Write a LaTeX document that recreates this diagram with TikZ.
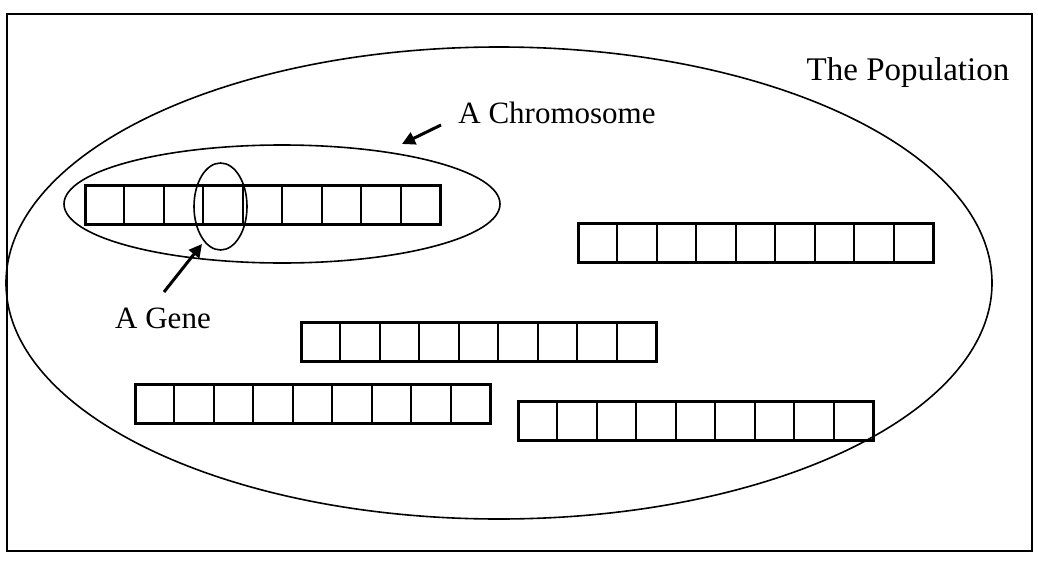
\documentclass[tikz,border=0pt]{standalone}
\usepackage{fontspec}
\setmainfont{Liberation Serif}
\usetikzlibrary{shapes.geometric,arrows.meta,calc}
\tikzset{
  chromo/.style={draw, line width=3pt, minimum width=355pt, minimum height=39pt, inner sep=0pt, outer sep=0pt},
  divider/.style={line width=2pt},
  ring/.style={draw, ellipse, line width=1.6pt, inner sep=0pt},
  pointer/.style={line width=3pt, -{Triangle[length=13pt,width=13pt]}},
  label/.style={font=\fontsize{31}{36}\selectfont, inner sep=0pt},
}
\newcommand{\cells}[1]{%
  \foreach \k in {1,...,8}{%
    \draw[divider] ($(#1.south west)!\k/9!(#1.south east)$) -- ($(#1.north west)!\k/9!(#1.north east)$);
  }}
\begin{document}
\begin{tikzpicture}[x=1pt,y=-1pt]
\useasboundingbox (0,0) rectangle (1038,562);
\node[draw, line width=2pt, minimum width=1025pt, minimum height=537pt, inner sep=0pt] (frame) at (519.5,282.5) {};
\node[ring, minimum width=986pt, minimum height=472pt] (pop) at (499,283) {};
\node[ring, minimum width=436pt, minimum height=118pt] (chr) at (282,204) {};
\node[ring, minimum width=53pt, minimum height=87pt] (gene) at (220.5,206.5) {};
\node[chromo] (c1) at (262.5,204.5) {};
\node[chromo] (c2) at (755.5,243) {};
\node[chromo] (c3) at (478.5,342) {};
\node[chromo] (c4) at (312.5,404) {};
\node[chromo] (c5) at (695.5,421) {};
\cells{c1}\cells{c2}\cells{c3}\cells{c4}\cells{c5}
\node[label, font=\fontsize{33}{38}\selectfont] (tpop) at (908,73) {The Population};
\node[label] (tchr) at (557,113) {A Chromosome};
\node[label] (tgene) at (163,318) {A Gene};
\coordinate (chrtail) at (441,125);
\coordinate (chrtip) at (402,144);
\coordinate (genetail) at (164,292);
\coordinate (genetip) at (202,244);
\draw[pointer] (chrtail) -- (chrtip);
\draw[pointer] (genetail) -- (genetip);
\end{tikzpicture}
\end{document}
